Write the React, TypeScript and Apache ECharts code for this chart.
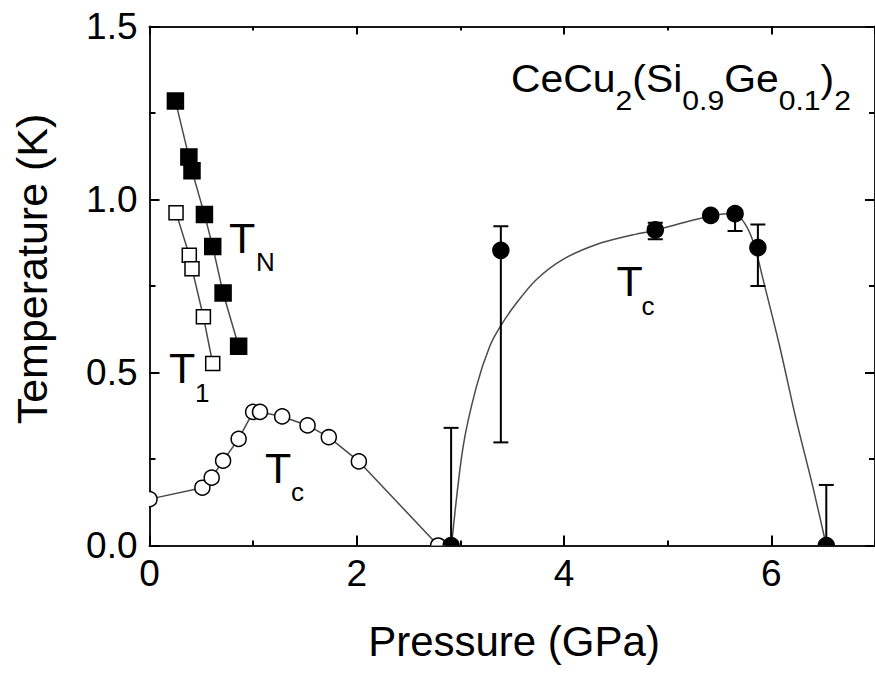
import React, { useEffect, useRef } from "react";
import * as echarts from "echarts";

const FONT = "'Liberation Sans', Arial, Helvetica, sans-serif";

// ---- Data ----
// T_N (filled squares)
const tnP = [0.25, 0.38, 0.41, 0.53, 0.61, 0.71, 0.86];
const tnT = [1.285, 1.123, 1.083, 0.957, 0.864, 0.73, 0.576];
// T_1 (open squares)
const t1P = [0.256, 0.384, 0.41, 0.52, 0.61];
const t1T = [0.962, 0.839, 0.8, 0.661, 0.526];
// Tc low-pressure dome (open circles)
const tcLowP = [0.0, 0.51, 0.6, 0.71, 0.86, 1.0, 1.066, 1.28, 1.525, 1.73, 2.02, 2.785];
const tcLowT = [0.134, 0.167, 0.196, 0.245, 0.308, 0.386, 0.386, 0.373, 0.347, 0.313, 0.243, 0.0];
// Tc high-pressure dome (filled circles)
const tcHighP = [2.91, 3.39, 4.88, 5.415, 5.65, 5.87, 6.53];
const tcHighT = [0.0, 0.853, 0.912, 0.954, 0.959, 0.861, 0.0];
// error bars
const errP = [2.91, 3.39, 4.88, 5.65, 5.87, 6.53];
const errLow = [-0.34, 0.298, 0.885, 0.909, 0.75, -0.175];
const errHigh = [0.34, 0.923, 0.933, 0.965, 0.928, 0.175];
// guide curve through the high-pressure dome (traced)
const fitP = [2.914, 3.026, 3.155, 3.283, 3.387, 3.541, 3.734, 3.99, 4.312, 4.634, 4.89, 5.148, 5.415, 5.566, 5.66, 5.759, 5.839, 5.92, 6.08, 6.24, 6.4, 6.53];
const fitT = [0.0, 0.286, 0.46, 0.576, 0.634, 0.701, 0.769, 0.827, 0.87, 0.896, 0.912, 0.933, 0.952, 0.959, 0.957, 0.923, 0.865, 0.769, 0.576, 0.363, 0.17, 0.0];

// axes
const xMin = 0, xMax = 7, xMajor = 2, xMinor = 1;
const yMin = 0, yMax = 1.5, yMajor = 0.5;
const xTitle = "Pressure (GPa)";
const yTitle = "Temperature (K)";

// compound title: CeCu2(Si0.9Ge0.1)2
const titleParts = [
  { t: "CeCu", sub: false },
  { t: "2", sub: true },
  { t: "(", sub: false },
  { t: "Si", sub: false },
  { t: "0.9", sub: true },
  { t: "Ge", sub: false },
  { t: "0.1", sub: true },
  { t: ")", sub: false },
  { t: "2", sub: true },
];

const zip = (a: number[], b: number[]) => a.map((v, i) => [v, b[i]]);

function measure(text: string, size: number) {
  const c = document.createElement("canvas").getContext("2d");
  if (!c) return text.length * size * 0.55;
  c.font = `${size}px 'Liberation Sans', Arial, sans-serif`;
  return c.measureText(text).width;
}

function markerSeries(xs: number[], ys: number[], kind: "rect" | "circle", size: number, filled: boolean, z: number) {
  return {
    type: "custom",
    clip: true,
    z,
    silent: true,
    xAxisIndex: 0,
    yAxisIndex: 0,
    data: zip(xs, ys),
    encode: { x: 0, y: 1 },
    renderItem: (_p: any, api: any) => {
      const c = api.coord([api.value(0), api.value(1)]);
      const style = { fill: filled ? "#000" : "#fff", stroke: "#000", lineWidth: 1.5 };
      if (kind === "rect") {
        return { type: "rect", shape: { x: c[0] - size / 2, y: c[1] - size / 2, width: size, height: size }, style };
      }
      return { type: "circle", shape: { cx: c[0], cy: c[1], r: size / 2 }, style };
    },
  };
}

function lineSeries(xs: number[], ys: number[], smooth: number | boolean, z: number) {
  return {
    type: "line",
    data: zip(xs, ys),
    showSymbol: false,
    symbol: "none",
    smooth,
    clip: true,
    silent: true,
    z,
    lineStyle: { color: "#4a4a4a", width: 1.5 },
  };
}

const tickStyle = { color: "#000", width: 2 };

function xAxisDef(position: "bottom" | "top", interval: number, len: number, labels: boolean, line: boolean) {
  return {
    type: "value",
    min: xMin,
    max: xMax,
    interval,
    position,
    gridIndex: 0,
    axisLine: { show: line, onZero: false, lineStyle: { color: "#1a1a1a", width: 2 } },
    axisTick: { show: true, inside: true, length: len, lineStyle: tickStyle },
    axisLabel: {
      show: labels,
      showMaxLabel: false,
      fontSize: 37,
      fontFamily: FONT,
      color: "#000",
      margin: 9,
      formatter: (v: number) => String(v),
    },
    splitLine: { show: false },
  };
}

function yAxisDef(position: "left" | "right", labels: boolean) {
  return {
    type: "value",
    min: yMin,
    max: yMax,
    interval: yMajor,
    position,
    gridIndex: 0,
    axisLine: { show: true, onZero: false, lineStyle: { color: "#1a1a1a", width: 2 } },
    axisTick: { show: true, inside: true, length: 10, lineStyle: tickStyle },
    minorTick: { show: true, splitNumber: 2, length: 6, lineStyle: tickStyle },
    axisLabel: {
      show: labels,
      fontSize: 37,
      fontFamily: FONT,
      color: "#000",
      margin: 12,
      formatter: (v: number) => v.toFixed(1),
    },
    splitLine: { show: false },
    minorSplitLine: { show: false },
  };
}

// annotation text pieces (layout only)
const annotations = [
  { t: "T", x: 229, y: 238, s: 43 },
  { t: "N", x: 256, y: 261.5, s: 26 },
  { t: "T", x: 169, y: 368, s: 43 },
  { t: "1", x: 195, y: 393, s: 26 },
  { t: "T", x: 265, y: 467.5, s: 43 },
  { t: "c", x: 291, y: 491.5, s: 26 },
  { t: "T", x: 616.5, y: 280.5, s: 43 },
  { t: "c", x: 641.5, y: 306, s: 26 },
];

export default function App() {
  const ref = useRef<HTMLDivElement>(null);

  useEffect(() => {
    if (!ref.current) return;
    const chart = echarts.init(ref.current, null, { renderer: "svg" });

    const errorBars = {
      type: "custom",
      clip: true,
      z: 3,
      silent: true,
      xAxisIndex: 0,
      yAxisIndex: 0,
      data: errP.map((p, i) => [p, errLow[i], errHigh[i]]),
      encode: { x: 0, y: [1, 2] },
      renderItem: (_p: any, api: any) => {
        const x = api.value(0);
        const lo = api.coord([x, api.value(1)]);
        const hi = api.coord([x, api.value(2)]);
        const hw = 7.5;
        const st = { stroke: "#000", lineWidth: 2 };
        return {
          type: "group",
          children: [
            { type: "line", shape: { x1: lo[0], y1: lo[1], x2: hi[0], y2: hi[1] }, style: st },
            { type: "line", shape: { x1: lo[0] - hw, y1: lo[1], x2: lo[0] + hw, y2: lo[1] }, style: st },
            { type: "line", shape: { x1: hi[0] - hw, y1: hi[1], x2: hi[0] + hw, y2: hi[1] }, style: st },
          ],
        };
      },
    };

    const graphics: any[] = [];
    annotations.forEach((a) => {
      graphics.push({
        type: "text",
        x: a.x,
        y: a.y,
        silent: true,
        style: { text: a.t, fontSize: a.s, fontFamily: FONT, fill: "#000", align: "left", verticalAlign: "middle" },
      });
    });

    // title laid out left to right, stretched to the reference's span
    const mainSize = 38, subSize = 28;
    const tStart = 511, tEnd = 851;
    const widths = titleParts.map((p) => measure(p.t, p.sub ? subSize : mainSize));
    const total = widths.reduce((s, w) => s + w, 0);
    const sx = (tEnd - tStart) / total;
    let cx = tStart;
    titleParts.forEach((p, i) => {
      graphics.push({
        type: "text",
        x: cx,
        y: p.sub ? 100.5 : 78.5,
        scaleX: sx,
        silent: true,
        style: {
          text: p.t,
          fontSize: p.sub ? subSize : mainSize,
          fontFamily: FONT,
          fill: "#000",
          align: "left",
          verticalAlign: "middle",
        },
      });
      cx += widths[i] * sx;
    });

    graphics.push({
      type: "text",
      x: 514,
      y: 641,
      silent: true,
      style: { text: xTitle, fontSize: 42, fontFamily: FONT, fill: "#000", align: "center", verticalAlign: "middle" },
    });
    graphics.push({
      type: "text",
      x: 32,
      y: 269,
      rotation: Math.PI / 2,
      silent: true,
      style: { text: yTitle, fontSize: 43, fontFamily: FONT, fill: "#000", align: "center", verticalAlign: "middle" },
    });

    chart.setOption({
      animation: false,
      backgroundColor: "#fff",
      grid: { left: 149.5, top: 26.5, width: 726, height: 519, containLabel: false },
      xAxis: [
        xAxisDef("bottom", xMajor, 10, true, true),
        xAxisDef("bottom", xMinor, 5, false, false),
        xAxisDef("top", xMajor, 8, false, true),
        xAxisDef("top", xMinor, 4, false, false),
      ],
      yAxis: [yAxisDef("left", true), yAxisDef("right", false)],
      series: [
        lineSeries(tnP, tnT, false, 2),
        lineSeries(t1P, t1T, false, 2),
        lineSeries(tcLowP, tcLowT, false, 2),
        lineSeries(fitP, fitT, 0.3, 2),
        errorBars,
        markerSeries(tnP, tnT, "rect", 16, true, 5),
        markerSeries(t1P, t1T, "rect", 14, false, 5),
        markerSeries(tcLowP, tcLowT, "circle", 15, false, 5),
        markerSeries(tcHighP, tcHighT, "circle", 16, true, 5),
      ],
      graphic: graphics,
    });

    return () => chart.dispose();
  }, []);

  return (
    <div
      ref={ref}
      style={{ position: "absolute", left: 0, top: 0, width: 875, height: 675, background: "#fff" }}
    />
  );
}
